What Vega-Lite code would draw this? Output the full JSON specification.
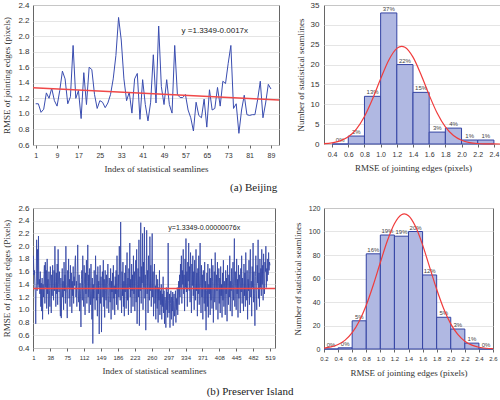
{
"$schema":"https://vega.github.io/schema/vega-lite/v6.json",
"padding":{"left":2,"top":0,"right":0,"bottom":0},
"background":"white",
"config":{
 "view":{"stroke":"#666","strokeWidth":1},
 "axis":{"labelFont":"Liberation Sans","labelFontSize":8,"labelColor":"#333","labelOverlap":false,"labelFlush":false,"titleFont":"Liberation Serif","titleFontSize":9,"titleFontWeight":"normal","titleColor":"#333","gridColor":"#dedede","gridWidth":0.8,"domain":false,"tickColor":"#666","tickSize":3},
 "axisX":{"grid":false},
 "title":{"font":"Liberation Serif","fontSize":11,"fontWeight":"normal","color":"#222"}
},
"datasets":{
"bj":[{"i":1,"v":1.13},{"i":2,"v":1.13},{"i":3,"v":1.02},{"i":4,"v":1.06},{"i":5,"v":1.27},{"i":6,"v":1.2},{"i":7,"v":1.33},{"i":8,"v":1.17},{"i":9,"v":1.1},{"i":10,"v":1.3},{"i":11,"v":1.55},{"i":12,"v":1.45},{"i":13,"v":1.13},{"i":14,"v":1.22},{"i":15,"v":1.88},{"i":16,"v":1.2},{"i":17,"v":1.3},{"i":18,"v":0.94},{"i":19,"v":1.53},{"i":20,"v":1.12},{"i":21,"v":1.6},{"i":22,"v":1.57},{"i":23,"v":1.25},{"i":24,"v":1.07},{"i":25,"v":1.17},{"i":26,"v":1.15},{"i":27,"v":1.08},{"i":28,"v":1.14},{"i":29,"v":1.25},{"i":30,"v":1.45},{"i":31,"v":1.75},{"i":32,"v":2.24},{"i":33,"v":1.95},{"i":34,"v":1.45},{"i":35,"v":1.17},{"i":36,"v":1.28},{"i":37,"v":1.01},{"i":38,"v":1.45},{"i":39,"v":1.52},{"i":40,"v":0.93},{"i":41,"v":1.44},{"i":42,"v":1.12},{"i":43,"v":0.91},{"i":44,"v":1.15},{"i":45,"v":1.76},{"i":46,"v":1.14},{"i":47,"v":2.13},{"i":48,"v":1.35},{"i":49,"v":1.12},{"i":50,"v":1.44},{"i":51,"v":1.12},{"i":52,"v":1.01},{"i":53,"v":1.88},{"i":54,"v":1.25},{"i":55,"v":1.21},{"i":56,"v":1.21},{"i":57,"v":1.25},{"i":58,"v":1.05},{"i":59,"v":0.95},{"i":60,"v":0.78},{"i":61,"v":1.15},{"i":62,"v":0.98},{"i":63,"v":0.95},{"i":64,"v":1.19},{"i":65,"v":0.83},{"i":66,"v":1.31},{"i":67,"v":1.05},{"i":68,"v":1.07},{"i":69,"v":1.34},{"i":70,"v":1.1},{"i":71,"v":1.42},{"i":72,"v":1.39},{"i":73,"v":1.65},{"i":74,"v":1.88},{"i":75,"v":1.07},{"i":76,"v":1.13},{"i":77,"v":0.75},{"i":78,"v":1.05},{"i":79,"v":1.24},{"i":80,"v":0.99},{"i":81,"v":0.98},{"i":82,"v":0.99},{"i":83,"v":0.99},{"i":84,"v":1.18},{"i":85,"v":1.42},{"i":86,"v":0.95},{"i":87,"v":1.14},{"i":88,"v":1.38},{"i":89,"v":1.32}],
"bjfit":[{"i":0,"v":1.3349},{"i":92,"v":1.1785}],
"bjh":[{"lo":0.4,"hi":0.6,"mid":0.5,"n":0,"pct":"0%"},{"lo":0.6,"hi":0.8,"mid":0.7,"n":2,"pct":"2%"},{"lo":0.8,"hi":1.0,"mid":0.9,"n":12,"pct":"13%"},{"lo":1.0,"hi":1.2,"mid":1.1,"n":33,"pct":"37%"},{"lo":1.2,"hi":1.4,"mid":1.3,"n":20,"pct":"22%"},{"lo":1.4,"hi":1.6,"mid":1.5,"n":13,"pct":"15%"},{"lo":1.6,"hi":1.8,"mid":1.7,"n":3,"pct":"3%"},{"lo":1.8,"hi":2.0,"mid":1.9,"n":4,"pct":"4%"},{"lo":2.0,"hi":2.2,"mid":2.1,"n":1,"pct":"1%"},{"lo":2.2,"hi":2.4,"mid":2.3,"n":1,"pct":"1%"}],
"bjc":[{"x":0.3,"y":0.1},{"x":0.4,"y":0.29},{"x":0.5,"y":0.78},{"x":0.6,"y":1.81},{"x":0.7,"y":3.76},{"x":0.8,"y":6.93},{"x":0.9,"y":11.32},{"x":1.0,"y":16.41},{"x":1.1,"y":21.1},{"x":1.2,"y":24.08},{"x":1.26,"y":24.6},{"x":1.3,"y":24.37},{"x":1.4,"y":21.88},{"x":1.5,"y":17.43},{"x":1.6,"y":12.31},{"x":1.7,"y":7.72},{"x":1.8,"y":4.29},{"x":1.9,"y":2.12},{"x":2.0,"y":0.93},{"x":2.1,"y":0.36},{"x":2.2,"y":0.12},{"x":2.3,"y":0.04},{"x":2.4,"y":0.01},{"x":2.5,"y":0.0}],
"ps":[{"i":1,"v":1.85},{"i":2,"v":1.55},{"i":3,"v":1.62},{"i":4,"v":1.38},{"i":5,"v":1.28},{"i":6,"v":0.78},{"i":7,"v":1.45},{"i":8,"v":2.1},{"i":9,"v":1.3},{"i":10,"v":1.95},{"i":11,"v":1.4},{"i":12,"v":2.16},{"i":13,"v":1.35},{"i":14,"v":1.48},{"i":15,"v":1.25},{"i":16,"v":1.6},{"i":17,"v":1.05},{"i":18,"v":1.42},{"i":19,"v":0.98},{"i":20,"v":1.5},
{"i":21,"v":0.85},{"i":22,"v":1.4},{"i":23,"v":1.2},{"i":24,"v":1.55},{"i":25,"v":1.7},{"i":26,"v":1.1},{"i":27,"v":1.75},{"i":28,"v":1.35},{"i":29,"v":1.62},{"i":30,"v":1.02},{"i":31,"v":1.8},{"i":32,"v":1.25},{"i":33,"v":1.48},{"i":34,"v":0.93},{"i":35,"v":1.6},{"i":36,"v":1.3},{"i":37,"v":1.05},{"i":38,"v":1.68},{"i":39,"v":1.42},{"i":40,"v":0.95},
{"i":41,"v":1.55},{"i":42,"v":1.22},{"i":43,"v":1.7},{"i":44,"v":1.38},{"i":45,"v":1.15},{"i":46,"v":1.62},{"i":47,"v":1.3},{"i":48,"v":2.0},{"i":49,"v":1.45},{"i":50,"v":1.05},{"i":51,"v":1.58},{"i":52,"v":1.25},{"i":53,"v":1.72},{"i":54,"v":1.08},{"i":55,"v":1.95},{"i":56,"v":1.4},{"i":57,"v":1.28},{"i":58,"v":1.6},{"i":59,"v":1.12},{"i":60,"v":0.9},
{"i":61,"v":1.5},{"i":62,"v":0.87},{"i":63,"v":1.35},{"i":64,"v":1.65},{"i":65,"v":1.2},{"i":66,"v":1.45},{"i":67,"v":1.0},{"i":68,"v":1.75},{"i":69,"v":1.3},{"i":70,"v":1.55},{"i":71,"v":1.1},{"i":72,"v":2.0},{"i":73,"v":1.4},{"i":74,"v":1.25},{"i":75,"v":0.87},{"i":76,"v":1.62},{"i":77,"v":1.35},{"i":78,"v":1.8},{"i":79,"v":1.18},{"i":80,"v":1.48},
{"i":81,"v":1.05},{"i":82,"v":1.7},{"i":83,"v":1.32},{"i":84,"v":1.58},{"i":85,"v":0.95},{"i":86,"v":1.45},{"i":87,"v":1.22},{"i":88,"v":1.68},{"i":89,"v":1.1},{"i":90,"v":1.52},{"i":91,"v":1.38},{"i":92,"v":1.75},{"i":93,"v":1.85},{"i":94,"v":1.2},{"i":95,"v":1.45},{"i":96,"v":1.05},{"i":97,"v":1.6},{"i":98,"v":2.02},{"i":99,"v":1.3},{"i":100,"v":1.12},
{"i":101,"v":1.55},{"i":102,"v":0.98},{"i":103,"v":1.42},{"i":104,"v":1.25},{"i":105,"v":0.73},{"i":106,"v":1.48},{"i":107,"v":1.62},{"i":108,"v":1.15},{"i":109,"v":1.85},{"i":110,"v":1.3},{"i":111,"v":1.05},{"i":112,"v":1.7},{"i":113,"v":1.4},{"i":114,"v":0.92},{"i":115,"v":1.58},{"i":116,"v":1.25},{"i":117,"v":1.78},{"i":118,"v":1.1},{"i":119,"v":1.45},{"i":120,"v":2.02},
{"i":121,"v":1.2},{"i":122,"v":1.55},{"i":123,"v":0.95},{"i":124,"v":1.65},{"i":125,"v":1.35},{"i":126,"v":1.08},{"i":127,"v":1.72},{"i":128,"v":1.28},{"i":129,"v":0.85},{"i":130,"v":1.5},{"i":131,"v":0.47},{"i":132,"v":1.4},{"i":133,"v":1.18},{"i":134,"v":1.62},{"i":135,"v":1.3},{"i":136,"v":1.0},{"i":137,"v":1.85},{"i":138,"v":1.42},{"i":139,"v":1.15},{"i":140,"v":1.55},
{"i":141,"v":0.9},{"i":142,"v":1.68},{"i":143,"v":1.25},{"i":144,"v":1.45},{"i":145,"v":0.62},{"i":146,"v":1.38},{"i":147,"v":1.7},{"i":148,"v":1.1},{"i":149,"v":1.52},{"i":150,"v":0.65},{"i":151,"v":1.35},{"i":152,"v":1.6},{"i":153,"v":1.2},{"i":154,"v":1.78},{"i":155,"v":1.05},{"i":156,"v":1.48},{"i":157,"v":0.88},{"i":158,"v":1.62},{"i":159,"v":1.3},{"i":160,"v":1.15},
{"i":161,"v":1.55},{"i":162,"v":1.02},{"i":163,"v":1.4},{"i":164,"v":1.72},{"i":165,"v":1.22},{"i":166,"v":0.95},{"i":167,"v":1.5},{"i":168,"v":1.35},{"i":169,"v":1.12},{"i":170,"v":1.65},{"i":171,"v":0.85},{"i":172,"v":1.45},{"i":173,"v":1.28},{"i":174,"v":1.58},{"i":175,"v":1.0},{"i":176,"v":1.7},{"i":177,"v":1.18},{"i":178,"v":1.38},{"i":179,"v":0.92},{"i":180,"v":1.52},
{"i":181,"v":1.25},{"i":182,"v":1.62},{"i":183,"v":1.08},{"i":184,"v":1.85},{"i":185,"v":1.32},{"i":186,"v":1.0},{"i":187,"v":1.55},{"i":188,"v":1.2},{"i":189,"v":2.0},{"i":190,"v":1.4},{"i":191,"v":1.15},{"i":192,"v":2.38},{"i":193,"v":1.3},{"i":194,"v":0.95},{"i":195,"v":1.6},{"i":196,"v":1.22},{"i":197,"v":1.75},{"i":198,"v":1.05},{"i":199,"v":1.45},{"i":200,"v":0.9},
{"i":201,"v":1.58},{"i":202,"v":1.28},{"i":203,"v":1.7},{"i":204,"v":1.02},{"i":205,"v":1.42},{"i":206,"v":1.9},{"i":207,"v":1.15},{"i":208,"v":1.5},{"i":209,"v":0.92},{"i":210,"v":1.65},{"i":211,"v":1.35},{"i":212,"v":2.05},{"i":213,"v":1.2},{"i":214,"v":1.48},{"i":215,"v":0.95},{"i":216,"v":1.72},{"i":217,"v":1.3},{"i":218,"v":1.55},{"i":219,"v":1.05},{"i":220,"v":1.85},
{"i":221,"v":1.25},{"i":222,"v":1.6},{"i":223,"v":0.98},{"i":224,"v":1.45},{"i":225,"v":1.78},{"i":226,"v":1.12},{"i":227,"v":1.95},{"i":228,"v":0.78},{"i":229,"v":1.4},{"i":230,"v":1.65},{"i":231,"v":1.2},{"i":232,"v":2.1},{"i":233,"v":0.75},{"i":234,"v":1.52},{"i":235,"v":1.3},{"i":236,"v":2.37},{"i":237,"v":1.1},{"i":238,"v":1.68},{"i":239,"v":1.42},{"i":240,"v":2.2},
{"i":241,"v":1.0},{"i":242,"v":1.75},{"i":243,"v":1.35},{"i":244,"v":2.3},{"i":245,"v":1.18},{"i":246,"v":1.55},{"i":247,"v":0.68},{"i":248,"v":1.48},{"i":249,"v":2.25},{"i":250,"v":1.25},{"i":251,"v":1.62},{"i":252,"v":0.95},{"i":253,"v":1.85},{"i":254,"v":1.4},{"i":255,"v":1.15},{"i":256,"v":2.15},{"i":257,"v":1.3},{"i":258,"v":1.7},{"i":259,"v":1.05},{"i":260,"v":1.5},
{"i":261,"v":2.2},{"i":262,"v":1.2},{"i":263,"v":1.6},{"i":264,"v":0.9},{"i":265,"v":1.45},{"i":266,"v":1.72},{"i":267,"v":1.1},{"i":268,"v":1.38},{"i":269,"v":0.85},{"i":270,"v":1.55},{"i":271,"v":1.25},{"i":272,"v":1.02},{"i":273,"v":1.48},{"i":274,"v":0.8},{"i":275,"v":1.35},{"i":276,"v":1.15},{"i":277,"v":1.62},{"i":278,"v":0.92},{"i":279,"v":1.3},{"i":280,"v":1.08},
{"i":281,"v":1.4},{"i":282,"v":0.85},{"i":283,"v":1.25},{"i":284,"v":1.05},{"i":285,"v":1.52},{"i":286,"v":0.95},{"i":287,"v":1.3},{"i":288,"v":0.78},{"i":289,"v":1.2},{"i":290,"v":1.12},{"i":291,"v":0.72},{"i":292,"v":1.35},{"i":293,"v":1.0},{"i":294,"v":1.28},{"i":295,"v":0.88},{"i":296,"v":2.05},{"i":297,"v":1.15},{"i":298,"v":0.95},{"i":299,"v":1.25},{"i":300,"v":0.72},
{"i":301,"v":1.1},{"i":302,"v":1.3},{"i":303,"v":0.85},{"i":304,"v":1.2},{"i":305,"v":0.98},{"i":306,"v":1.28},{"i":307,"v":0.75},{"i":308,"v":1.15},{"i":309,"v":1.25},{"i":310,"v":0.9},{"i":311,"v":1.05},{"i":312,"v":1.3},{"i":313,"v":0.8},{"i":314,"v":1.18},{"i":315,"v":1.0},{"i":316,"v":1.35},{"i":317,"v":0.92},{"i":318,"v":1.22},{"i":319,"v":1.45},{"i":320,"v":1.08},
{"i":321,"v":1.55},{"i":322,"v":1.2},{"i":323,"v":1.72},{"i":324,"v":1.35},{"i":325,"v":1.85},{"i":326,"v":1.1},{"i":327,"v":1.62},{"i":328,"v":1.4},{"i":329,"v":1.95},{"i":330,"v":1.25},{"i":331,"v":1.55},{"i":332,"v":0.98},{"i":333,"v":1.8},{"i":334,"v":1.35},{"i":335,"v":2.12},{"i":336,"v":1.28},{"i":337,"v":1.6},{"i":338,"v":1.05},{"i":339,"v":1.75},{"i":340,"v":1.45},
{"i":341,"v":2.05},{"i":342,"v":1.3},{"i":343,"v":1.68},{"i":344,"v":1.12},{"i":345,"v":1.9},{"i":346,"v":1.5},{"i":347,"v":0.95},{"i":348,"v":1.72},{"i":349,"v":1.38},{"i":350,"v":1.85},{"i":351,"v":1.22},{"i":352,"v":1.6},{"i":353,"v":1.0},{"i":354,"v":1.78},{"i":355,"v":1.42},{"i":356,"v":1.15},{"i":357,"v":1.95},{"i":358,"v":1.3},{"i":359,"v":1.58},{"i":360,"v":0.9},
{"i":361,"v":1.65},{"i":362,"v":1.25},{"i":363,"v":1.85},{"i":364,"v":1.08},{"i":365,"v":1.5},{"i":366,"v":2.05},{"i":367,"v":1.35},{"i":368,"v":0.95},{"i":369,"v":1.7},{"i":370,"v":1.2},{"i":371,"v":1.55},{"i":372,"v":0.85},{"i":373,"v":1.62},{"i":374,"v":1.4},{"i":375,"v":1.1},{"i":376,"v":1.75},{"i":377,"v":0.98},{"i":378,"v":1.45},{"i":379,"v":0.68},{"i":380,"v":1.3},
{"i":381,"v":1.58},{"i":382,"v":1.05},{"i":383,"v":1.72},{"i":384,"v":0.88},{"i":385,"v":1.4},{"i":386,"v":1.25},{"i":387,"v":1.65},{"i":388,"v":0.92},{"i":389,"v":1.5},{"i":390,"v":1.15},{"i":391,"v":1.8},{"i":392,"v":1.02},{"i":393,"v":1.45},{"i":394,"v":1.7},{"i":395,"v":0.8},{"i":396,"v":1.35},{"i":397,"v":1.6},{"i":398,"v":1.12},{"i":399,"v":1.9},{"i":400,"v":1.28},
{"i":401,"v":1.0},{"i":402,"v":1.55},{"i":403,"v":1.3},{"i":404,"v":1.75},{"i":405,"v":0.85},{"i":406,"v":1.42},{"i":407,"v":1.65},{"i":408,"v":1.1},{"i":409,"v":1.5},{"i":410,"v":0.95},{"i":411,"v":1.68},{"i":412,"v":1.22},{"i":413,"v":1.4},{"i":414,"v":0.88},{"i":415,"v":1.58},{"i":416,"v":1.15},{"i":417,"v":1.78},{"i":418,"v":1.05},{"i":419,"v":1.45},{"i":420,"v":1.3},
{"i":421,"v":0.92},{"i":422,"v":1.62},{"i":423,"v":1.25},{"i":424,"v":1.5},{"i":425,"v":0.82},{"i":426,"v":1.7},{"i":427,"v":1.35},{"i":428,"v":1.08},{"i":429,"v":1.55},{"i":430,"v":1.2},{"i":431,"v":1.85},{"i":432,"v":0.98},{"i":433,"v":1.45},{"i":434,"v":1.3},{"i":435,"v":1.65},{"i":436,"v":0.9},{"i":437,"v":1.4},{"i":438,"v":1.75},{"i":439,"v":1.15},{"i":440,"v":1.52},
{"i":441,"v":2.12},{"i":442,"v":1.05},{"i":443,"v":1.6},{"i":444,"v":1.35},{"i":445,"v":1.0},{"i":446,"v":1.8},{"i":447,"v":1.25},{"i":448,"v":1.48},{"i":449,"v":0.88},{"i":450,"v":1.7},{"i":451,"v":1.18},{"i":452,"v":1.55},{"i":453,"v":1.4},{"i":454,"v":0.95},{"i":455,"v":1.65},{"i":456,"v":1.28},{"i":457,"v":1.85},{"i":458,"v":1.1},{"i":459,"v":1.5},{"i":460,"v":1.35},
{"i":461,"v":0.98},{"i":462,"v":1.72},{"i":463,"v":1.22},{"i":464,"v":1.58},{"i":465,"v":1.05},{"i":466,"v":1.9},{"i":467,"v":1.4},{"i":468,"v":1.15},{"i":469,"v":1.62},{"i":470,"v":0.85},{"i":471,"v":1.48},{"i":472,"v":1.3},{"i":473,"v":1.78},{"i":474,"v":1.08},{"i":475,"v":1.55},{"i":476,"v":1.95},{"i":477,"v":1.2},{"i":478,"v":1.45},{"i":479,"v":0.9},{"i":480,"v":1.68},
{"i":481,"v":1.35},{"i":482,"v":2.05},{"i":483,"v":1.12},{"i":484,"v":1.6},{"i":485,"v":1.25},{"i":486,"v":0.75},{"i":487,"v":1.52},{"i":488,"v":1.85},{"i":489,"v":1.3},{"i":490,"v":1.0},{"i":491,"v":1.7},{"i":492,"v":1.42},{"i":493,"v":2.1},{"i":494,"v":1.18},{"i":495,"v":1.58},{"i":496,"v":1.05},{"i":497,"v":1.8},{"i":498,"v":1.35},{"i":499,"v":1.65},{"i":500,"v":1.22},
{"i":501,"v":1.95},{"i":502,"v":1.4},{"i":503,"v":1.7},{"i":504,"v":1.15},{"i":505,"v":1.88},{"i":506,"v":1.5},{"i":507,"v":1.25},{"i":508,"v":1.75},{"i":509,"v":1.6},{"i":510,"v":2.0},{"i":511,"v":1.35},{"i":512,"v":1.65},{"i":513,"v":1.45},{"i":514,"v":1.8},{"i":515,"v":1.55},{"i":516,"v":1.9},{"i":517,"v":1.62},{"i":518,"v":1.75},{"i":519,"v":1.7}],
"psfit":[{"i":0,"v":1.3349},{"i":530,"v":1.3345}],
"psh":[{"lo":0.2,"hi":0.4,"mid":0.3,"n":0,"pct":"0%"},{"lo":0.4,"hi":0.6,"mid":0.5,"n":1,"pct":"0%"},{"lo":0.6,"hi":0.8,"mid":0.7,"n":24,"pct":"5%"},{"lo":0.8,"hi":1.0,"mid":0.9,"n":81,"pct":"16%"},{"lo":1.0,"hi":1.2,"mid":1.1,"n":97,"pct":"19%"},{"lo":1.2,"hi":1.4,"mid":1.3,"n":96,"pct":"19%"},{"lo":1.4,"hi":1.6,"mid":1.5,"n":100,"pct":"20%"},{"lo":1.6,"hi":1.8,"mid":1.7,"n":63,"pct":"12%"},{"lo":1.8,"hi":2.0,"mid":1.9,"n":27,"pct":"5%"},{"lo":2.0,"hi":2.2,"mid":2.1,"n":17,"pct":"3%"},{"lo":2.2,"hi":2.4,"mid":2.3,"n":5,"pct":"1%"},{"lo":2.4,"hi":2.6,"mid":2.5,"n":0,"pct":"0%"}],
"psc":[{"x":0.2,"y":0.76},{"x":0.3,"y":1.77},{"x":0.4,"y":3.81},{"x":0.5,"y":7.56},{"x":0.6,"y":13.9},{"x":0.7,"y":23.7},{"x":0.8,"y":37.3},{"x":0.9,"y":54.5},{"x":1.0,"y":73.6},{"x":1.1,"y":92.1},{"x":1.2,"y":106.6},{"x":1.3,"y":114.3},{"x":1.34,"y":115},{"x":1.4,"y":113.4},{"x":1.5,"y":104.2},{"x":1.6,"y":88.6},{"x":1.7,"y":69.7},{"x":1.8,"y":50.8},{"x":1.9,"y":34.3},{"x":2.0,"y":21.4},{"x":2.1,"y":12.4},{"x":2.2,"y":6.63},{"x":2.3,"y":3.29},{"x":2.4,"y":1.51},{"x":2.5,"y":0.64},{"x":2.6,"y":0.25}]
},
"vconcat":[
 {"hconcat":[
  {"width":246,"height":140,
   "layer":[
    {"data":{"name":"bj"},"mark":{"type":"line","color":"#3a4db0","strokeWidth":1},
     "encoding":{
      "x":{"field":"i","type":"quantitative","scale":{"domain":[0,92],"nice":false,"zero":false},"axis":{"values":[1,9,17,25,33,41,49,57,65,73,81,89],"labelOverlap":false,"tickCount":12,"title":"Index of statistical seamlines","labelFontSize":7,"labelPadding":3,"titlePadding":6}},
      "y":{"field":"v","type":"quantitative","scale":{"domain":[0.6,2.4],"nice":false,"zero":false},"axis":{"values":[0.6,0.8,1.0,1.2,1.4,1.6,1.8,2.0,2.2,2.4],"labelOverlap":false,"tickCount":10,"format":".1f","title":"RMSE of jointing edges  (pixels)","ticks":false,"labelPadding":4,"titlePadding":6}}}},
    {"data":{"name":"bjfit"},"mark":{"type":"line","color":"#f04848","strokeWidth":1.5},
     "encoding":{"x":{"field":"i","type":"quantitative"},"y":{"field":"v","type":"quantitative"}}},
    {"data":{"values":[{}]},"mark":{"type":"text","font":"Liberation Sans","fontSize":8,"color":"#222"},
     "encoding":{"x":{"datum":68},"y":{"datum":2.066},"text":{"value":"y =1.3349-0.0017x"}}}
   ]},
  {"width":178,"height":139,
   "layer":[
    {"data":{"name":"bjh"},"mark":{"type":"rect","fill":"#b0b8e2","stroke":"#3343a3","strokeWidth":1},
     "encoding":{
      "x":{"field":"lo","type":"quantitative","scale":{"domain":[0.3,2.5],"nice":false,"zero":false},"axis":{"values":[0.4,0.6,0.8,1.0,1.2,1.4,1.6,1.8,2.0,2.2,2.4],"labelOverlap":false,"tickCount":11,"format":".1f","title":"RMSE of jointing edges (pixels)","labelFontSize":7,"labelPadding":3,"titlePadding":6}},
      "x2":{"field":"hi"},
      "y":{"field":"n","type":"quantitative","scale":{"domain":[0,35],"nice":false},"axis":{"values":[0,5,10,15,20,25,30,35],"labelOverlap":false,"tickCount":8,"title":"Number of statistical seamlines","ticks":false,"labelPadding":5,"titlePadding":5}},
      "y2":{"datum":0}}},
    {"data":{"name":"bjh"},"mark":{"type":"text","font":"Liberation Sans","fontSize":6,"baseline":"bottom","dy":-1,"color":"#444"},
     "encoding":{"x":{"field":"mid","type":"quantitative"},"y":{"field":"n","type":"quantitative"},"text":{"field":"pct"}}},
    {"data":{"name":"bjc"},"mark":{"type":"line","color":"#f03c3c","strokeWidth":1.2,"interpolate":"monotone"},
     "encoding":{"x":{"field":"x","type":"quantitative"},"y":{"field":"y","type":"quantitative"}}}
   ]}
 ],"spacing":12,"title":{"text":"(a) Beijing","orient":"bottom","anchor":"middle","offset":8}},
 {"hconcat":[
  {"width":242,"height":140,
   "layer":[
    {"data":{"name":"ps"},"mark":{"type":"line","color":"#2f41a3","strokeWidth":0.8},
     "encoding":{
      "x":{"field":"i","type":"quantitative","scale":{"domain":[0,530],"nice":false,"zero":false},"axis":{"values":[1,38,75,112,149,186,223,260,297,334,371,408,445,482,519],"labelOverlap":false,"tickCount":15,"title":"Index of statistical seamlines","labelFontSize":6,"labelPadding":3,"titlePadding":6}},
      "y":{"field":"v","type":"quantitative","scale":{"domain":[0.4,2.6],"nice":false,"zero":false},"axis":{"values":[0.4,0.6,0.8,1.0,1.2,1.4,1.6,1.8,2.0,2.2,2.4,2.6],"labelOverlap":false,"tickCount":12,"format":".1f","title":"RMSE of jointing edges (Pixels)","ticks":false,"labelPadding":4,"titlePadding":6}}}},
    {"data":{"name":"psfit"},"mark":{"type":"line","color":"#f04848","strokeWidth":1.5},
     "encoding":{"x":{"field":"i","type":"quantitative"},"y":{"field":"v","type":"quantitative"}}},
    {"data":{"values":[{}]},"mark":{"type":"text","font":"Liberation Sans","fontSize":7,"color":"#222"},
     "encoding":{"x":{"datum":375},"y":{"datum":2.28},"text":{"value":"y=1.3349-0.00000076x"}}}
   ]},
  {"width":169,"height":141,
   "layer":[
    {"data":{"name":"psh"},"mark":{"type":"rect","fill":"#b0b8e2","stroke":"#3343a3","strokeWidth":1},
     "encoding":{
      "x":{"field":"lo","type":"quantitative","scale":{"domain":[0.2,2.6],"nice":false,"zero":false},"axis":{"values":[0.2,0.4,0.6,0.8,1.0,1.2,1.4,1.6,1.8,2.0,2.2,2.4,2.6],"labelOverlap":false,"tickCount":13,"format":".1f","title":"RMSE of jointing edges (pixels)","labelFontSize":6,"labelPadding":3,"titlePadding":7}},
      "x2":{"field":"hi"},
      "y":{"field":"n","type":"quantitative","scale":{"domain":[0,120],"nice":false},"axis":{"values":[0,20,40,60,80,100,120],"labelOverlap":false,"tickCount":7,"title":"Number of statistical seamlines","labelFontSize":7,"ticks":false,"labelPadding":4,"titlePadding":6}},
      "y2":{"datum":0}}},
    {"data":{"name":"psh"},"mark":{"type":"text","font":"Liberation Sans","fontSize":6,"baseline":"bottom","dy":-1,"color":"#444"},
     "encoding":{"x":{"field":"mid","type":"quantitative"},"y":{"field":"n","type":"quantitative"},"text":{"field":"pct"}}},
    {"data":{"name":"psc"},"mark":{"type":"line","color":"#f03c3c","strokeWidth":1.2,"interpolate":"monotone"},
     "encoding":{"x":{"field":"x","type":"quantitative"},"y":{"field":"y","type":"quantitative"}}}
   ]}
 ],"spacing":13,"title":{"text":"(b) Preserver Island","orient":"bottom","anchor":"middle","offset":8}}
],
"spacing":10
}
